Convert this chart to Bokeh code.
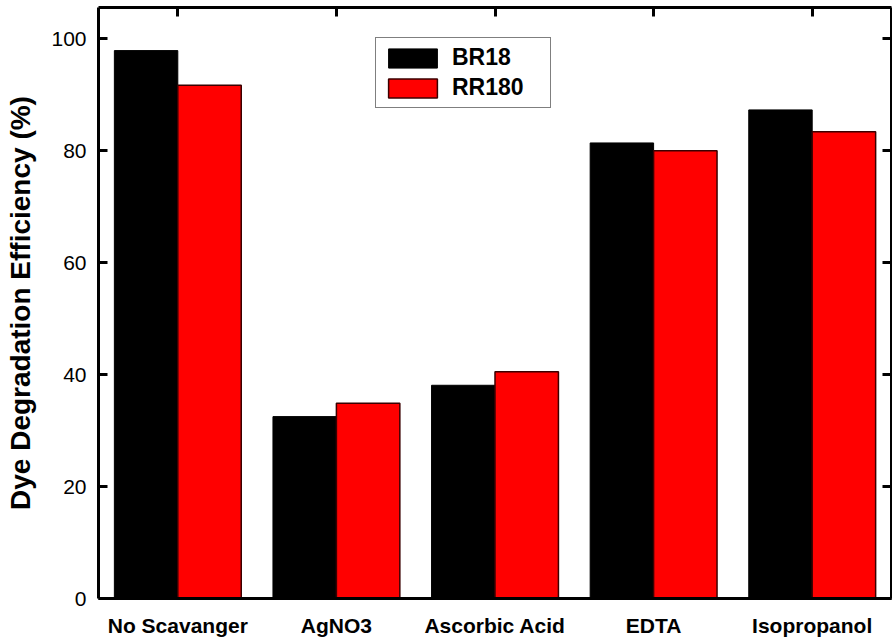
from bokeh.plotting import figure
from bokeh.models import (ColumnDataSource, Range1d, FixedTicker, LinearAxis,
                          Legend, LegendItem)
from bokeh.embed import file_html
from bokeh.resources import INLINE

categories = ["No Scavanger", "AgNO3", "Ascorbic Acid", "EDTA", "Isopropanol"]
br18 = [97.9, 32.5, 38.1, 81.4, 87.3]
rr180 = [91.7, 34.9, 40.5, 80.0, 83.4]
y_ticks = [0, 20, 40, 60, 80, 100]

xs = list(range(1, len(categories) + 1))
bw = 0.4
src = ColumnDataSource(dict(
    xb=[x - bw / 2 for x in xs], xr=[x + bw / 2 for x in xs],
    br18=br18, rr180=rr180))

FONT = "Liberation Sans"

p = figure(width=892, height=642, output_backend="svg", toolbar_location=None,
           x_range=Range1d(0.5, 5.5), y_range=Range1d(0, 105.6),
           min_border_left=98, min_border_right=1, min_border_top=7,
           min_border_bottom=44, x_axis_type=None, y_axis_type=None)
p.grid.visible = False
p.outline_line_color = None
p.background_fill_color = "white"
p.border_fill_color = "white"

rb = p.vbar(x="xb", top="br18", width=bw, source=src, fill_color="black",
            line_color="black", line_width=1)
rr = p.vbar(x="xr", top="rr180", width=bw, source=src, fill_color="#ff0000",
            line_color="#3a0000", line_width=1.5)

def style(ax, labels=True):
    ax.axis_line_width = 3
    ax.axis_line_color = "black"
    ax.major_tick_line_width = 3
    ax.major_tick_line_color = "black"
    ax.major_tick_in = 9
    ax.major_tick_out = 0
    ax.minor_tick_line_color = None
    ax.major_label_text_color = "black"
    ax.axis_label_text_color = "black"
    if not labels:
        ax.major_label_text_font_size = "0px"
        ax.major_label_standoff = 0
        ax.major_label_text_alpha = 0

# left
yl = LinearAxis(ticker=FixedTicker(ticks=y_ticks))
style(yl)
yl.major_label_text_font = FONT
yl.major_label_text_font_size = "21px"
yl.major_label_standoff = 12
yl.axis_label = "Dye Degradation Efficiency (%)"
yl.axis_label_text_font = FONT
yl.axis_label_text_font_style = "bold"
yl.axis_label_text_font_size = "28px"
yl.axis_label_standoff = 12
p.add_layout(yl, "left")

# right
yr = LinearAxis(ticker=FixedTicker(ticks=y_ticks))
style(yr, labels=False)
p.add_layout(yr, "right")

# bottom
xb = LinearAxis(ticker=FixedTicker(ticks=xs),
                major_label_overrides={x: c for x, c in zip(xs, categories)})
style(xb)
xb.major_tick_in = 0
xb.major_label_text_font = FONT
xb.major_label_text_font_style = "bold"
xb.major_label_text_font_size = "21px"
xb.major_label_standoff = 15
p.add_layout(xb, "below")

# top
xt = LinearAxis(ticker=FixedTicker(ticks=xs))
style(xt, labels=False)
p.add_layout(xt, "above")

legend = Legend(items=[LegendItem(label="BR18", renderers=[rb]),
                       LegendItem(label="RR180", renderers=[rr])],
                location=(277, 490))
legend.label_text_font = FONT
legend.label_text_font_style = "bold"
legend.label_text_font_size = "23px"
legend.label_text_color = "black"
legend.glyph_width = 61
legend.glyph_height = 24
legend.label_height = 24
legend.label_width = 92
legend.label_standoff = 9
legend.spacing = 3
legend.padding = 6
legend.margin = 0
legend.border_line_color = "black"
legend.border_line_width = 1
legend.background_fill_alpha = 1
p.add_layout(legend, "center")

open("out.html", "w").write(file_html(p, INLINE))
